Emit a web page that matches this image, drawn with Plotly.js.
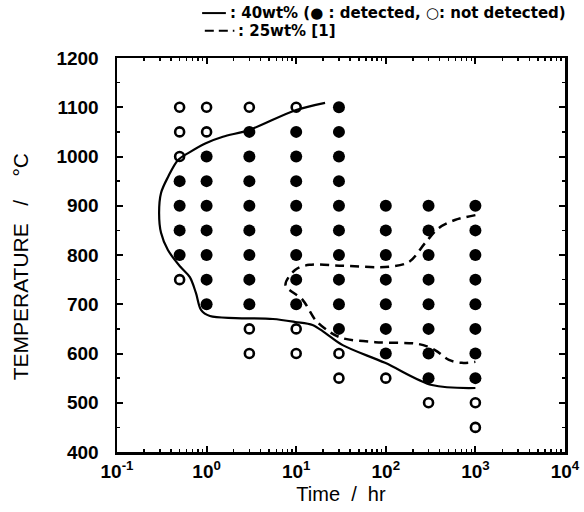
<!DOCTYPE html>
<html>
<head>
<meta charset="utf-8">
<script src="https://cdn.plot.ly/plotly-3.0.1.min.js"></script>
<style>html,body{margin:0;padding:0;background:#fff;}#chart{width:584px;height:512px;}</style>
</head>
<body>
<div id="chart"></div>
<script>
// Sampling times (hr)
var times = [0.5, 1, 3, 10, 30, 100, 300, 1000];
// Temperatures where the phase was detected (filled) per time column
var detected = [
  [950, 900, 850, 800],
  [1000, 950, 900, 850, 800, 750, 700],
  [1050, 1000, 950, 900, 850, 800, 750, 700],
  [1050, 1000, 950, 900, 850, 800, 750, 700],
  [1100, 1050, 1000, 950, 900, 850, 800, 750, 700, 650],
  [900, 850, 800, 750, 700, 650, 600],
  [900, 850, 800, 750, 700, 650, 600, 550],
  [900, 850, 800, 750, 700, 650, 600, 550]
];
// Temperatures where the phase was not detected (open) per time column
var notDetected = [
  [1100, 1050, 1000, 750],
  [1100, 1050],
  [1100, 650, 600],
  [1100, 650, 600],
  [600, 550],
  [550],
  [500],
  [500, 450]
];
// 40wt% boundary (solid)
var curve40_t = [21, 9.8, 3.0, 1.52, 0.98, 0.65, 0.48, 0.37, 0.31, 0.295, 0.31, 0.37, 0.51, 0.65, 0.76, 0.87, 1.09, 2.1, 5.5, 9.8, 15.2, 21, 33, 98, 327, 1000];
var curve40_T = [1109, 1094, 1054, 1040, 1027, 1009, 993, 958, 926, 885, 845, 810, 776, 755, 723, 688, 676, 672, 670, 664, 658, 642, 617, 581, 536, 530];
// 25wt% boundary [1] (dashed)
var curve25_t = [1000, 590, 392, 274, 182, 109, 33, 14, 9.8, 7.6, 11.8, 16.4, 23.5, 33, 76, 235, 354, 506, 705, 1000];
var curve25_T = [881, 871, 855, 824, 786, 776, 778, 780, 770, 739, 709, 668, 644, 631, 623, 619, 607, 587, 581, 583];
// Axis tick labels
var xTickVals = [0.1, 1, 10, 100, 1000, 10000];
var xTickText = ['10<sup>-1</sup>', '10<sup>0</sup>', '10<sup>1</sup>', '10<sup>2</sup>', '10<sup>3</sup>', '10<sup>4</sup>'];

function flatten(groups) {
  var xs = [], ys = [];
  groups.forEach(function (g, i) { g.forEach(function (T) { xs.push(times[i]); ys.push(T); }); });
  return {x: xs, y: ys};
}
var det = flatten(detected), nd = flatten(notDetected);

var FONT = 'Liberation Sans, Arial, sans-serif';
var LFONT = 'DejaVu Sans, Liberation Sans, sans-serif';
var NB = '\u00A0';
function sp(n) { return new Array(n + 1).join(NB); }

var traces = [
  {x: curve40_t, y: curve40_T, mode: 'lines', line: {color: '#000', width: 2.2, shape: 'spline', smoothing: 0.9}, hoverinfo: 'skip'},
  {x: curve25_t, y: curve25_T, mode: 'lines', line: {color: '#000', width: 2.5, dash: '9px,6px', shape: 'spline', smoothing: 0.9}, hoverinfo: 'skip'},
  {x: det.x, y: det.y, mode: 'markers', marker: {symbol: 'circle', size: 12, color: '#000'}},
  {x: nd.x, y: nd.y, mode: 'markers', marker: {symbol: 'circle-open', size: 9, color: '#000', line: {width: 2.6, color: '#000'}}}
];

var layout = {
  width: 584, height: 512,
  margin: {l: 117, r: 19, t: 58, b: 60},
  paper_bgcolor: '#fff', plot_bgcolor: '#fff',
  showlegend: false,
  font: {family: FONT, color: '#000'},
  xaxis: {
    type: 'log', range: [-1, 4],
    tickmode: 'array', tickvals: xTickVals, ticktext: xTickText,
    ticks: 'inside', ticklen: 6, tickwidth: 2, tickcolor: '#000',
    showline: true, linewidth: 2.5, linecolor: '#000', mirror: 'ticks',
    showgrid: false, zeroline: false,
    minor: {dtick: 'D1', ticks: 'inside', ticklen: 3, tickwidth: 1.5, tickcolor: '#000', showgrid: false},
    tickfont: {size: 19, family: FONT, weight: 'bold'},
    ticklabelstandoff: 1,
    title: {text: 'Time' + sp(2) + '/' + sp(2) + 'hr', font: {size: 20, family: FONT}, standoff: 6}
  },
  yaxis: {
    range: [400, 1200], tickmode: 'linear', tick0: 400, dtick: 100,
    ticks: 'inside', ticklen: 6, tickwidth: 2, tickcolor: '#000',
    showline: true, linewidth: 2.5, linecolor: '#000', mirror: 'ticks',
    showgrid: false, zeroline: false,
    minor: {dtick: 50, ticks: 'inside', ticklen: 3, tickwidth: 1.5, tickcolor: '#000', showgrid: false},
    tickfont: {size: 19, family: FONT, weight: 'bold'},
    ticklabelstandoff: 12,
    title: {text: 'TEMPERATURE' + sp(3) + '/' + sp(4) + '°C' + sp(4) + '\u200B', font: {size: 21, family: FONT}, standoff: 22}
  },
  shapes: [
    {type: 'line', xref: 'paper', yref: 'paper', x0: 0.190, x1: 0.243, y0: 1.114, y1: 1.114, line: {color: '#000', width: 2}},
    {type: 'line', xref: 'paper', yref: 'paper', x0: 0.196, x1: 0.262, y0: 1.069, y1: 1.069, line: {color: '#000', width: 2, dash: '9px,5px'}}
  ],
  annotations: [
    {xref: 'paper', yref: 'paper', x: 0.248, y: 1.114, xanchor: 'left', yanchor: 'middle', showarrow: false,
     text: ': 40wt% (\u25CF : detected, \u25CB: not detected)', font: {size: 15, family: LFONT, color: '#000', weight: 'bold'}},
    {xref: 'paper', yref: 'paper', x: 0.266, y: 1.069, xanchor: 'left', yanchor: 'middle', showarrow: false,
     text: ': 25wt% [1]', font: {size: 15, family: LFONT, color: '#000', weight: 'bold'}}
  ]
};

Plotly.newPlot('chart', traces, layout, {displayModeBar: false, staticPlot: true});
</script>
</body>
</html>
